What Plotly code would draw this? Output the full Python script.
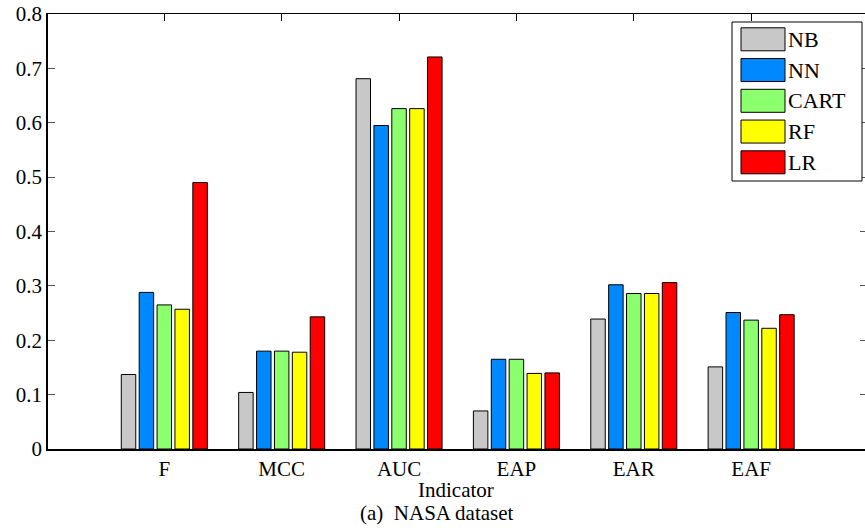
import plotly.graph_objects as go

# Indicators on the x axis and the classifiers compared
indicators = ["F", "MCC", "AUC", "EAP", "EAR", "EAF"]
models = ["NB", "NN", "CART", "RF", "LR"]

nb_vals = [0.137, 0.104, 0.681, 0.070, 0.239, 0.151]
nn_vals = [0.288, 0.180, 0.595, 0.165, 0.302, 0.251]
cart_vals = [0.265, 0.180, 0.626, 0.165, 0.286, 0.237]
rf_vals = [0.257, 0.178, 0.626, 0.139, 0.286, 0.222]
lr_vals = [0.490, 0.243, 0.721, 0.140, 0.306, 0.247]

series = [nb_vals, nn_vals, cart_vals, rf_vals, lr_vals]
colors = ["#C8C8C8", "#0088FF", "#8CFF6E", "#FFFF00", "#FF0000"]

y_ticks = [0, 0.1, 0.2, 0.3, 0.4, 0.5, 0.6, 0.7, 0.8]
y_tick_text = ["0", "0.1", "0.2", "0.3", "0.4", "0.5", "0.6", "0.7", "0.8"]

W, H = 865, 528
L, T, B = 48, 14, 79
PW, PH = W - L, H - T - B
FONT = "Liberation Serif"


def px(x):
    return (x - L) / PW


def py(y):
    return (H - B - y) / PH


fig = go.Figure()
for name, vals, col in zip(models, series, colors):
    fig.add_trace(go.Bar(
        x=indicators, y=vals, name=name,
        marker=dict(color=col, line=dict(color="black", width=1)),
        showlegend=False,
    ))

# empty trace so the top/right tick axes form their own subplot and get drawn
fig.add_trace(go.Scatter(x=[], y=[], xaxis="x2", yaxis="y2",
                         showlegend=False, hoverinfo="skip"))

shapes = []
annotations = []

# legend box drawn by hand so the swatches are large like the chart's style
shapes.append(dict(type="rect", xref="paper", yref="paper",
                   x0=px(732), x1=px(862), y0=py(181), y1=py(22),
                   line=dict(color="black", width=1), fillcolor="white", layer="above"))
for i, (name, col) in enumerate(zip(models, colors)):
    cy = 39.3 + i * 30.75
    shapes.append(dict(type="rect", xref="paper", yref="paper",
                       x0=px(741), x1=px(785), y0=py(cy + 11.5), y1=py(cy - 11.5),
                       line=dict(color="black", width=1), fillcolor=col, layer="above"))
    annotations.append(dict(text=name, xref="paper", yref="paper",
                            x=px(786), y=py(cy), xanchor="left", yanchor="middle",
                            showarrow=False, font=dict(family=FONT, size=22, color="black")))

annotations.append(dict(text="Indicator", xref="paper", yref="paper",
                        x=px(456), y=py(490), xanchor="center", yanchor="middle",
                        showarrow=False, font=dict(family=FONT, size=21, color="black")))
annotations.append(dict(text="(a)\u00a0 NASA dataset", xref="paper", yref="paper",
                        x=px(437), y=py(513), xanchor="center", yanchor="middle",
                        showarrow=False, font=dict(family=FONT, size=21, color="black")))

fig.update_layout(
    width=W, height=H,
    margin=dict(l=L, r=0, t=T, b=B, pad=0),
    paper_bgcolor="white", plot_bgcolor="white",
    barmode="group", bargap=0.238, bargroupgap=0.19,
    font=dict(family=FONT, size=21, color="black"),
    shapes=shapes, annotations=annotations,
    xaxis=dict(
        type="category", range=[-0.991, 5.97],
        showline=True, linecolor="black", linewidth=2,
        ticks="", showgrid=False, zeroline=False,
        tickfont=dict(family=FONT, size=21, color="black"),
    ),
    xaxis2=dict(
        overlaying="x", side="top", anchor="y2",
        type="linear", range=[-0.991, 5.97],
        tickvals=[0, 1, 2, 3, 4, 5], showticklabels=False,
        ticks="inside", ticklen=7, tickcolor="black", tickwidth=1,
        showline=True, linecolor="black", linewidth=1,
        showgrid=False, zeroline=False,
    ),
    yaxis=dict(
        range=[0, 0.8], tickvals=y_ticks, ticktext=y_tick_text,
        ticks="inside", ticklen=7, tickcolor="#555", tickwidth=1,
        showline=True, linecolor="black", linewidth=1.5,
        showgrid=False, zeroline=False,
        tickfont=dict(family=FONT, size=21, color="black"),
    ),
    yaxis2=dict(
        overlaying="y", side="right", anchor="x2",
        range=[0, 0.8], tickvals=y_ticks, showticklabels=False,
        ticks="inside", ticklen=5, tickcolor="#555", tickwidth=1,
        showline=False, showgrid=False, zeroline=False,
    ),
)

fig.write_html("out.html")
